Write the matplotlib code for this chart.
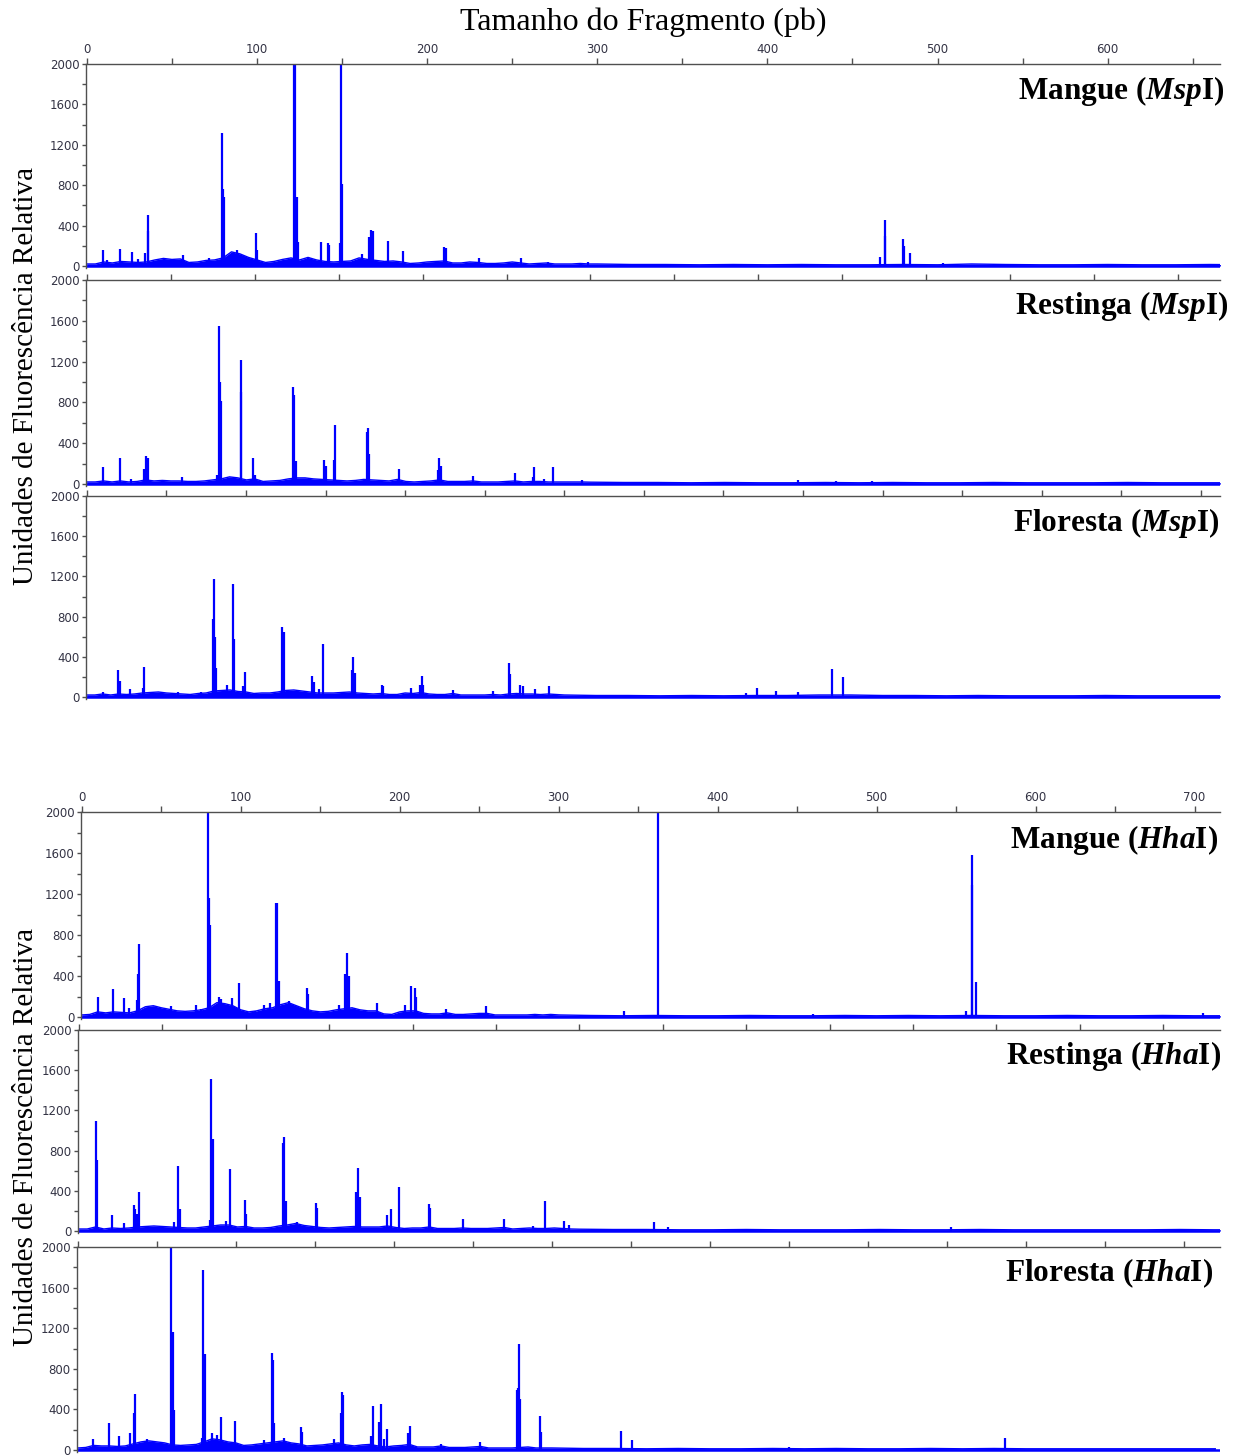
import numpy as np
import matplotlib
matplotlib.use('Agg')
from matplotlib import pyplot as plt
from matplotlib.ticker import MultipleLocator

plt.rcParams['mathtext.fontset'] = 'custom'
plt.rcParams['mathtext.it'] = 'Liberation Serif:italic:bold'
plt.rcParams['mathtext.rm'] = 'Liberation Serif:bold'

# picos: posicao (pb) e altura (UFR)
mm_pos = [9.5, 12, 19.6, 26.7, 30, 34.3, 35.8, 36.2, 56.4, 71.5, 79.3, 80, 80.6, 88, 99.3, 100,
          121.6, 122.2, 123.5, 124.3, 130, 137.8, 141.6, 142.6, 148.5, 149.3, 149.8, 162, 165.8,
          166.8, 168.3, 176.9, 185.7, 210, 210.8, 230.3, 255, 271, 294.5, 466, 469, 469.4, 479.4,
          480, 484, 503]
mm_h = [156, 56, 166, 140, 73, 130, 508, 350, 106, 83, 1321, 763, 680, 160, 325, 156,
        2100, 2100, 680, 240, 93, 240, 226, 210, 232, 2100, 813, 116, 289,
        352, 349, 249, 150, 193, 180, 83, 76, 43, 36, 90, 300, 455, 267,
        200, 129, 30]

mr_pos = [9.6, 19.6, 26.6, 34, 35.5, 36.2, 56.6, 77.7, 79, 79.4, 80.2, 91.6, 92.1, 99.2, 100,
          122.6, 123.2, 124.5, 141.5, 142.6, 147.3, 148.1, 166.6, 167.4, 168, 185.8, 209.2, 209.8,
          211, 229.8, 255, 265.6, 266.4, 272.3, 277.7, 294.7, 423.7, 446, 468]
mr_h = [168, 254, 50, 145, 274, 257, 66, 86, 1551, 1000, 812, 900, 1214, 254, 92,
        950, 868, 224, 234, 175, 240, 574, 505, 551, 290, 145, 135, 254,
        181, 83, 106, 69, 168, 50, 168, 36, 40, 30, 30]

mf_pos = [10, 19.7, 20.6, 26.9, 35, 36, 57, 71.6, 79, 79.7, 80.4, 81.3, 88.4, 92, 92.7, 98, 99.6,
          122.7, 123.8, 141.5, 142.6, 146, 148.2, 166.6, 167.5, 168.6, 185.4, 186.2, 203.8, 209.3,
          210.5, 211.5, 230, 255, 265.3, 266, 272.3, 274.3, 281.7, 290.6, 414, 421, 433, 447,
          468.5, 475]
mf_h = [47, 266, 156, 80, 90, 300, 50, 50, 773, 1172, 600, 290, 117, 1129, 573, 107, 246,
        693, 649, 213, 153, 80, 529, 273, 396, 240, 123, 110, 90, 120,
        206, 120, 73, 55, 340, 233, 117, 107, 83, 107, 40, 90, 60, 50,
        279, 199]

hm_pos = [10.1, 19.8, 26.5, 29.9, 35, 35.5, 36.2, 56, 71.9, 75, 79.1, 80.2, 80.9, 86.5, 87.6,
          94.4, 99.1, 109, 114.6, 118.6, 122, 123.1, 124, 130.3, 141.6, 142.2, 161.8, 165.8, 167,
          168, 185.4, 203.4, 207.4, 209.4, 210.5, 229.2, 254.4, 341, 362.3, 460, 556, 559.7,
          560.2, 562.3, 705]
hm_h = [196, 274, 186, 88, 170, 417, 717, 104, 114, 75, 2100, 1164, 900, 196, 180,
        186, 336, 60, 114, 140, 1108, 1108, 349, 153, 284, 220, 114, 424, 629,
        400, 137, 114, 303, 284, 196, 81, 104, 59, 2100, 30, 59, 1580,
        1290, 341, 40]

hr_pos = [10.1, 10.7, 19.7, 27, 32.8, 33.6, 34.9, 36.2, 56.8, 59.4, 60.6, 78.4, 79.5, 80.2, 88.5,
          90.4, 99.4, 100.3, 122.1, 123.2, 124.3, 130.7, 141.9, 142.7, 166.1, 167.2, 168.7, 184.7,
          186.9, 191.8, 209.6, 210.4, 230.4, 255, 272, 279.2, 291, 293.6, 345, 353, 523]
hr_h = [1096, 706, 157, 80, 256, 223, 166, 386, 90, 649, 223, 110, 1512, 912, 100,
        616, 313, 166, 879, 932, 300, 90, 280, 230, 386, 629, 340, 157,
        223, 440, 266, 230, 117, 123, 50, 300, 100, 60, 90, 40, 40]

hf_pos = [9.9, 19.7, 26.4, 32.8, 35.7, 36.2, 44, 59.2, 60.1, 60.8, 78.4, 79.3, 80.5, 85.2, 88.1,
          90.4, 99.4, 118, 122.7, 123.6, 124.3, 130.4, 141.3, 142, 162, 166.8, 167.2, 168.1, 185.3,
          186.7, 190.7, 191.9, 193.9, 196, 209, 210.2, 229.8, 254.7, 278, 278.4, 279.3, 279.8,
          292.4, 293.3, 344, 351, 450, 587]
hf_h = [109, 270, 139, 172, 363, 554, 106, 2100, 1165, 396, 116, 1775, 947, 165, 150,
        323, 287, 100, 957, 891, 264, 122, 231, 180, 110, 363, 574, 544, 142,
        429, 271, 452, 110, 205, 165, 238, 56, 83, 594, 611, 1046, 500,
        337, 182, 190, 100, 30, 118]

# ruido de fundo: 0-300 pb a cada 5 pb, 320-720 pb a cada 20 pb
mm_noise = [20, 20, 40, 30, 45, 40, 35, 40, 60, 75, 65, 70, 35, 40, 55, 60, 80, 140, 120, 85,
            60, 35, 45, 65, 80, 60, 85, 60, 45, 40, 45, 50, 80, 65, 55, 45, 50, 40, 25, 30,
            40, 45, 50, 30, 30, 40, 35, 25, 25, 30, 40, 30, 20, 25, 30, 20, 20, 20, 25, 20, 20]
mm_tail = [15, 15, 12, 15, 12, 15, 12, 12, 15, 12, 20, 15, 12, 12, 15, 12, 12, 15, 12, 12, 12]
mr_noise = [20, 20, 30, 20, 30, 20, 25, 40, 30, 35, 30, 30, 25, 25, 30, 40, 50, 70, 60, 40,
            50, 25, 30, 35, 50, 60, 60, 50, 45, 40, 35, 30, 35, 45, 40, 35, 30, 45, 25, 20,
            25, 30, 40, 25, 25, 25, 30, 20, 20, 20, 25, 30, 20, 25, 25, 20, 20, 20, 20, 20, 18]
mr_tail = [15, 15, 12, 15, 12, 12, 15, 12, 15, 12, 12, 15, 12, 12, 12, 15, 12, 12, 12, 12, 12]
mf_noise = [20, 20, 30, 20, 30, 25, 30, 40, 45, 50, 40, 35, 30, 25, 35, 40, 60, 65, 70, 55,
            50, 35, 40, 40, 50, 65, 70, 60, 50, 40, 40, 40, 45, 50, 40, 35, 30, 35, 25, 25,
            40, 35, 45, 30, 25, 25, 35, 20, 20, 20, 20, 25, 20, 30, 35, 30, 30, 25, 30, 25, 20]
mf_tail = [15, 15, 12, 15, 12, 15, 15, 20, 20, 15, 15, 12, 15, 12, 12, 12, 15, 12, 12, 12, 12]
hm_noise = [20, 25, 50, 40, 50, 45, 40, 60, 100, 110, 90, 75, 60, 55, 60, 70, 90, 140, 130, 110,
            70, 50, 60, 80, 90, 120, 140, 110, 80, 60, 50, 55, 70, 80, 90, 70, 60, 60, 30, 25,
            50, 60, 60, 35, 30, 30, 40, 25, 25, 30, 35, 35, 20, 20, 20, 20, 20, 25, 20, 25, 20]
hm_tail = [15, 12, 15, 12, 12, 15, 12, 12, 15, 12, 15, 12, 15, 12, 12, 15, 12, 12, 15, 12, 12]
hr_noise = [20, 20, 40, 20, 30, 25, 30, 40, 45, 50, 45, 40, 35, 30, 30, 40, 50, 60, 60, 40,
            45, 30, 30, 35, 50, 60, 75, 55, 45, 35, 30, 35, 40, 45, 40, 40, 40, 50, 35, 25,
            30, 30, 40, 25, 25, 25, 30, 25, 25, 25, 30, 35, 20, 25, 30, 25, 25, 30, 25, 20, 18]
hr_tail = [15, 15, 12, 12, 15, 12, 12, 12, 15, 12, 12, 15, 12, 12, 12, 12, 12, 15, 12, 12, 12]
hf_noise = [20, 25, 45, 40, 40, 35, 40, 60, 80, 90, 80, 70, 50, 45, 50, 55, 80, 110, 100, 80,
            70, 45, 50, 60, 70, 80, 90, 70, 60, 40, 45, 50, 60, 70, 50, 40, 50, 55, 40, 30,
            40, 45, 55, 30, 30, 30, 40, 25, 25, 25, 30, 35, 20, 20, 20, 20, 25, 30, 20, 20, 20]
hf_tail = [15, 15, 12, 15, 12, 12, 15, 12, 15, 12, 12, 15, 12, 15, 12, 12, 12, 12, 12, 12, 12]

titulos = ['Mangue ($Msp$I)', 'Restinga ($Msp$I)', 'Floresta ($Msp$I)',
           'Mangue ($Hha$I)', 'Restinga ($Hha$I)', 'Floresta ($Hha$I)']
picos = [(mm_pos, mm_h), (mr_pos, mr_h), (mf_pos, mf_h),
         (hm_pos, hm_h), (hr_pos, hr_h), (hf_pos, hf_h)]
ruidos = [(mm_noise, mm_tail), (mr_noise, mr_tail), (mf_noise, mf_tail),
          (hm_noise, hm_tail), (hr_noise, hr_tail), (hf_noise, hf_tail)]

# layout em pixels: esquerda, topo, zero do eixo y, xmax (pb), direita do titulo, linha de base do titulo
W, H = 1243, 1456
paineis = [(86, 64, 266, 666, 1224, 99),
           (86, 280, 484, 675, 1228, 314),
           (86, 496, 697, 712, 1219, 531),
           (81, 812, 1017, 716, 1218, 848),
           (78, 1030, 1231, 684, 1221, 1064),
           (77, 1247, 1450, 723, 1213, 1281)]

x_lo = np.arange(0, 301, 5)
x_hi = np.arange(320, 721, 20)
azul = '#0000FF'
cinza = '#505050'

fig = plt.figure(figsize=(W / 100, H / 100), dpi=100)

for i, (esq, topo, zero, xmax, tx, ty) in enumerate(paineis):
    fundo = zero + (zero - topo) * 20 / 2000
    ax = fig.add_axes([esq / W, 1 - fundo / H, (1220 - esq) / W, (fundo - topo) / H])
    xs = np.concatenate([x_lo, x_hi])
    ys = np.concatenate([ruidos[i][0], ruidos[i][1]])
    ax.fill_between(xs, 0, ys, color=azul, lw=0)
    ax.plot(xs, ys, color=azul, lw=1.0)
    ax.axhline(0, color=azul, lw=1.8)
    ax.vlines(picos[i][0], 0, picos[i][1], color=azul, lw=1.6)
    ax.set_xlim(-0.5, xmax)
    ax.set_ylim(-20, 2000)
    for s in ['right', 'bottom']:
        ax.spines[s].set_visible(False)
    for s in ['left', 'top']:
        ax.spines[s].set_color(cinza)
        ax.spines[s].set_linewidth(1)
    ax.xaxis.tick_top()
    ax.xaxis.set_major_locator(MultipleLocator(100))
    ax.xaxis.set_minor_locator(MultipleLocator(50))
    ax.yaxis.set_major_locator(MultipleLocator(400))
    ax.yaxis.set_minor_locator(MultipleLocator(200))
    ax.tick_params(axis='x', which='both', direction='out', length=4, width=1, color=cinza,
                   labelsize=8.5, labelcolor='#333344', pad=2)
    ax.tick_params(axis='y', which='both', direction='out', length=3, width=1, color=cinza,
                   labelsize=8.5, labelcolor='#333344', pad=1.5)
    if i not in (0, 3):
        ax.tick_params(axis='x', labeltop=False)
    fig.text(tx / W, 1 - ty / H, titulos[i], ha='right', va='baseline', fontsize=22.5,
             fontweight='bold', family='Liberation Serif')

fig.text(643 / W, 1 - 22 / H, 'Tamanho do Fragmento (pb)', ha='center', va='center',
         fontsize=23, family='Liberation Serif')
for yc in [376, 1137]:
    fig.text(26 / W, 1 - yc / H, 'Unidades de Fluorescência Relativa', ha='center', va='center',
             rotation=90, fontsize=21, family='Liberation Serif')

plt.savefig('out.png', dpi=100)
